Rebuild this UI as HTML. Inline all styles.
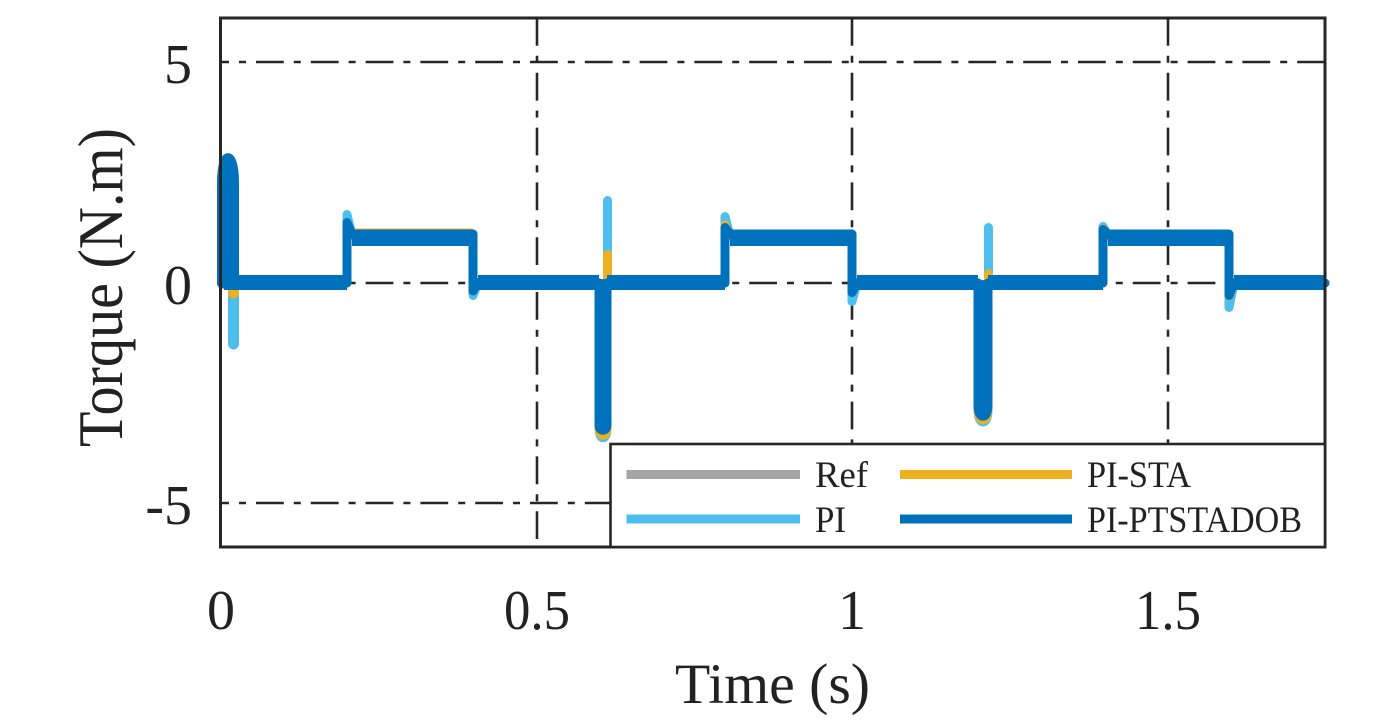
<!DOCTYPE html>
<html>
<head>
<meta charset="utf-8">
<style>
html,body{margin:0;padding:0;background:#fff;}
svg{display:block;}
text{font-family:"Liberation Serif","Times New Roman",serif;fill:#222;}
</style>
</head>
<body>
<svg width="1379" height="725" viewBox="0 0 1379 725" xmlns="http://www.w3.org/2000/svg">
<rect x="0" y="0" width="1379" height="725" fill="#fff"/>

<!-- grid lines -->
<g stroke="#262626" stroke-width="2.6" fill="none" stroke-dasharray="27.8 10 7 10">
  <path d="M1325,62 H220.5"/>
  <path d="M1325,283 H220.5"/>
  <path d="M1325,503 H220.5"/>
  <path d="M537,18 V547"/>
  <path d="M852,18 V547"/>
  <path d="M1168,18 V547"/>
</g>

<!-- PI (light blue) -->
<g fill="none" stroke="#4DBEEE" stroke-linejoin="round" stroke-linecap="round">
  <path stroke-width="11" d="M222.5,283 V185 C222.5,150 233.5,150 233.5,185 V344"/>
  <path stroke-width="9" d="M236,283 H347 V214.5 L352,236 H473 V295.5 L478,283 H599 V428 C599,441 607,441 607,428 V283 H725 V216.5 L730,236 H852 V301.5 L857,283 H978 V410 C978,426 988,426 988,410 V283 H1103 V226.5 L1108,236 H1229 V307.5 L1234,283 H1325"/>
  <path stroke-width="9" d="M607.5,283 V200.5"/>
  <path stroke-width="9" d="M988.5,283 V227.5"/>
  <g stroke-width="16" stroke-linecap="butt">
    <path d="M352,237 H473"/>
    <path d="M730,237.5 H852"/>
    <path d="M1108,237.5 H1229"/>
  </g>
</g>

<!-- PI-STA (orange) -->
<g fill="none" stroke="#EDB120" stroke-linejoin="round" stroke-linecap="round">
  <path stroke-width="11" d="M222.5,283 V185 C222.5,150 233.5,150 233.5,185 V293"/>
  <path stroke-width="9" d="M236,283 H347 V223 L352,236 H473 V291 L478,283 H599 V427 C599,438 607,438 607,427 V283 H725 V225 L730,236 H852 V292 L857,283 H978 V408 C978,424 988,424 988,408 V283 H1103 V229 L1108,236 H1229 V296 L1234,283 H1325"/>
  <path stroke-width="9" d="M607.5,283 V254.5"/>
  <path stroke-width="9" d="M988.5,283 V273.5"/>
  <g stroke-width="16" stroke-linecap="butt">
    <path d="M352,236.5 H473"/>
    <path d="M730,238 H852"/>
    <path d="M1108,238 H1229"/>
  </g>
</g>

<!-- PI-PTSTADOB (blue) -->
<g fill="none" stroke="#0072BD" stroke-linejoin="round" stroke-linecap="round">
  <path stroke-width="11" d="M222.5,283 V185 C222.5,150 233.5,150 233.5,185 V283"/>
  <path stroke-width="7" d="M228,283 V170"/>
  <path stroke-width="9" d="M233.5,283 H347 V222.5 L352,234 H473 V291 L478,283 H599 V425 C599,432 607,432 607,425 V283 H725 V227.5 L730,234 H852 V292.5 L857,283 H978 V405 C978,420 988,420 988,405 V283 H1103 V229.5 L1108,234 H1229 V295.5 L1234,283 H1325"/>
  <path stroke-width="8" d="M603,283 V428"/>
  <path stroke-width="6" d="M983,283 V412"/>
  <g stroke-width="15" stroke-linecap="butt">
    <path d="M224,282.5 H347"/>
    <path d="M352,238.5 H473"/>
    <path d="M478,282.5 H599"/>
    <path d="M607,282.5 H725"/>
    <path d="M730,238.5 H852"/>
    <path d="M857,282.5 H978"/>
    <path d="M988,282.5 H1103"/>
    <path d="M1108,238.5 H1229"/>
    <path d="M1234,282.5 H1325"/>
  </g>
</g>

<!-- axes box -->
<rect x="220.5" y="18" width="1104.5" height="529" fill="none" stroke="#262626" stroke-width="3"/>

<!-- legend -->
<rect x="610.5" y="444" width="714.5" height="103" fill="#fff" stroke="#262626" stroke-width="2.6"/>
<g fill="none" stroke-width="9">
  <path d="M626.5,474.5 H800" stroke="#A5A5A5"/>
  <path d="M900,474.5 H1072" stroke="#EDB120"/>
  <path d="M626.5,519 H800" stroke="#4DBEEE"/>
  <path d="M900,519 H1072" stroke="#0072BD"/>
</g>
<g font-size="37">
  <text x="815" y="487" textLength="53" lengthAdjust="spacingAndGlyphs">Ref</text>
  <text x="815" y="532" textLength="31" lengthAdjust="spacingAndGlyphs">PI</text>
  <text x="1087" y="487" textLength="104" lengthAdjust="spacingAndGlyphs">PI-STA</text>
  <text x="1087" y="532" textLength="215" lengthAdjust="spacingAndGlyphs">PI-PTSTADOB</text>
</g>

<!-- y tick labels -->
<g font-size="56" text-anchor="end">
  <text x="192" y="83">5</text>
  <text x="192" y="304">0</text>
  <text x="192" y="524">-5</text>
</g>
<!-- x tick labels -->
<g font-size="56" text-anchor="middle">
  <text x="221" y="629">0</text>
  <text x="537" y="629" textLength="66" lengthAdjust="spacingAndGlyphs">0.5</text>
  <text x="852" y="629">1</text>
  <text x="1168" y="629" textLength="66" lengthAdjust="spacingAndGlyphs">1.5</text>
</g>

<!-- axis labels -->
<text x="675" y="703" font-size="57" textLength="195" lengthAdjust="spacingAndGlyphs">Time (s)</text>
<text transform="translate(122,287.5) rotate(-90)" x="0" y="0" font-size="64" text-anchor="middle" textLength="319" lengthAdjust="spacingAndGlyphs">Torque (N.m)</text>
</svg>
</body>
</html>
